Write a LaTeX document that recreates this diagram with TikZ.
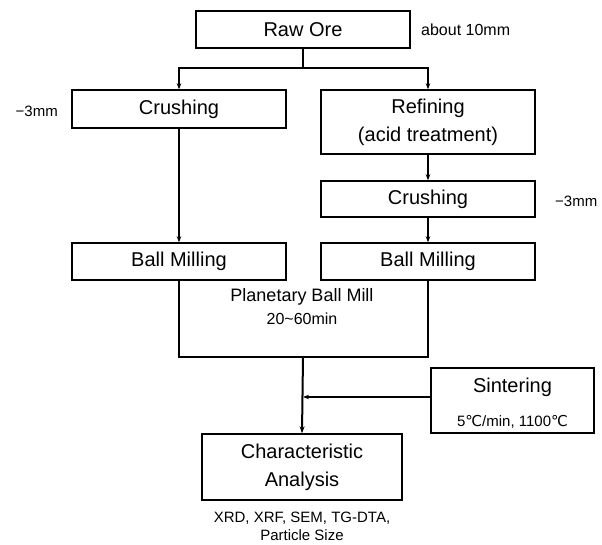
\documentclass[tikz,border=0pt]{standalone}
\usepackage{fontspec}
\setmainfont{Liberation Sans}
\newfontfamily\dvfont{DejaVu Sans}
\usetikzlibrary{arrows.meta}
\begin{document}
\begin{tikzpicture}[x=1pt,y=-1pt,
  box/.style={draw,line width=1.4pt,minimum width=214pt,inner sep=0pt,
    font=\fontsize{20}{28}\selectfont,align=center},
  conn/.style={line width=1.1pt},
  arr/.style={conn,-{Stealth[length=6pt,width=4.5pt]}},
  note/.style={font=\fontsize{15}{18}\selectfont,inner sep=0pt},
  inner/.style={inner sep=0pt,align=center}]
\useasboundingbox (0,0) rectangle (602,545);
% boxes
\node[box,minimum height=37pt] (raw) at (303,29.5) {Raw Ore};
\node[box,minimum height=38pt] (crushL) at (179,109) {Crushing};
\node[box,minimum height=64pt] (refine) at (428,122) {Refining\\(acid treatment)};
\node[box,minimum height=36pt] (crushR) at (428,199) {Crushing};
\node[box,minimum height=37pt] (ballL) at (179,261.5) {Ball Milling};
\node[box,minimum height=37pt] (ballR) at (428,261.5) {Ball Milling};
\node[box,minimum width=163pt,minimum height=65pt] (sinter) at (512.5,400.5) {};
\node[box,minimum width=200pt,minimum height=66pt] (char) at (302,467) {Characteristic\\Analysis};
% texts
\node[inner,font=\fontsize{20}{24}\selectfont] (sintxt) at (512.5,387) {Sintering};
\node[inner,font=\fontsize{15}{18}\selectfont] (sinpar) at (512.5,422) {5{\dvfont ℃}/min, 1100{\dvfont ℃}};
\node[inner,font=\fontsize{18}{22}\selectfont] (pbm) at (302,297) {Planetary Ball Mill};
\node[inner,font=\fontsize{16}{20}\selectfont] (pbmt) at (302,319) {20\textasciitilde60min};
\node[note,font=\fontsize{16}{18}\selectfont,anchor=west] (n10) at (421,30) {about 10mm};
\node[note,anchor=east] (n3L) at (58,111) {−3mm};
\node[note,anchor=west] (n3R) at (555,201) {−3mm};
\node[inner,font=\fontsize{15}{18}\selectfont] (anal) at (302,526) {XRD, XRF, SEM, TG-DTA,\\Particle Size};
% connectors
\coordinate (split) at (303,68);
\draw[conn] (raw.south) -- (split);
\draw[arr] (split) -| (crushL.north);
\draw[arr] (split) -| (refine.north);
\draw[arr] (refine.south) -- (crushR.north);
\draw[arr] (crushR.south) -- (ballR.north);
\draw[arr] (crushL.south) -- (ballL.north);
\coordinate (bl) at (179,357);
\coordinate (br) at (428,357);
\coordinate (bm) at (303,357);
\draw[conn] (ballL.south) -- (bl) -- (br) -- (ballR.south);
\draw[line width=2pt,-{Stealth[length=7pt,width=5pt]}] (bm) -- (char.north);
\coordinate (sjoin) at (303,397);
\draw[arr] (sinter.west |- sjoin) -- (sjoin);
\end{tikzpicture}
\end{document}
